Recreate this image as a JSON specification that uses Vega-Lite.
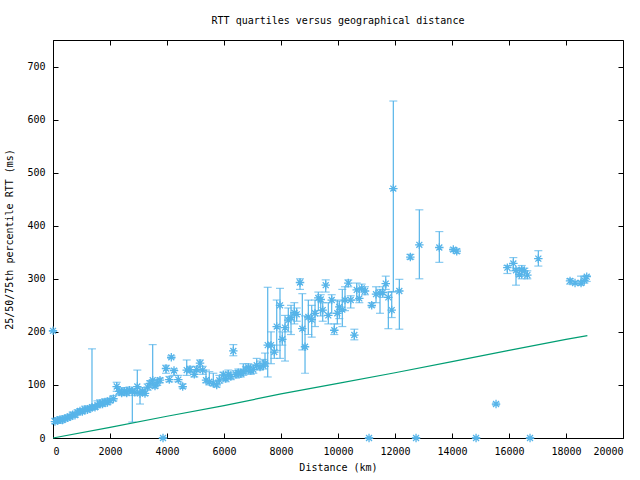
{
  "$schema": "https://vega.github.io/schema/vega-lite/v6.json",
  "autosize": {"type": "none"},
  "width": 570,
  "height": 398,
  "padding": {"left": 53, "top": 40, "right": 17, "bottom": 42},
  "background": "white",
  "title": {"text": "RTT quartiles versus geographical distance", "font": "DejaVu Sans Mono", "fontSize": 10, "fontWeight": "normal", "color": "black", "anchor": "middle", "offset": 14},
  "config": {
    "view": {"stroke": "black", "strokeWidth": 1},
    "axis": {"font": "DejaVu Sans Mono", "labelFont": "DejaVu Sans Mono", "titleFont": "DejaVu Sans Mono", "labelFontSize": 10, "titleFontSize": 10, "titleFontWeight": "normal", "labelColor": "black", "titleColor": "black", "domainColor": "black", "tickColor": "black", "grid": false, "tickSize": -5, "labelPadding": 13}
  },
  "datasets": {
    "pts": [
      {"d": 0, "v": 202, "lo": 202, "hi": 202},
      {"d": 70, "v": 31, "lo": 27, "hi": 37},
      {"d": 160, "v": 33, "lo": 28, "hi": 38},
      {"d": 246, "v": 35, "lo": 28, "hi": 40},
      {"d": 330, "v": 34, "lo": 30, "hi": 39},
      {"d": 421, "v": 37, "lo": 32, "hi": 42},
      {"d": 510, "v": 38, "lo": 34, "hi": 43},
      {"d": 597, "v": 40, "lo": 36, "hi": 45},
      {"d": 690, "v": 44, "lo": 40, "hi": 49},
      {"d": 772, "v": 43, "lo": 39, "hi": 48},
      {"d": 860, "v": 48, "lo": 44, "hi": 53},
      {"d": 947, "v": 51, "lo": 46, "hi": 55},
      {"d": 1030, "v": 50, "lo": 46, "hi": 55},
      {"d": 1123, "v": 54, "lo": 50, "hi": 60},
      {"d": 1210, "v": 53, "lo": 49, "hi": 58},
      {"d": 1298, "v": 56, "lo": 52, "hi": 60},
      {"d": 1368, "v": 58, "lo": 54, "hi": 168},
      {"d": 1474, "v": 58, "lo": 54, "hi": 63},
      {"d": 1560, "v": 62, "lo": 57, "hi": 70},
      {"d": 1649, "v": 65, "lo": 60, "hi": 72},
      {"d": 1740, "v": 64, "lo": 60, "hi": 70},
      {"d": 1825, "v": 68, "lo": 63, "hi": 74},
      {"d": 1910, "v": 67, "lo": 63, "hi": 72},
      {"d": 2000, "v": 71, "lo": 66, "hi": 75},
      {"d": 2120, "v": 74, "lo": 70, "hi": 80},
      {"d": 2235, "v": 97, "lo": 88, "hi": 105},
      {"d": 2320, "v": 88, "lo": 82, "hi": 94},
      {"d": 2410, "v": 85, "lo": 80, "hi": 90},
      {"d": 2500, "v": 88, "lo": 83, "hi": 95},
      {"d": 2586, "v": 85, "lo": 80, "hi": 92},
      {"d": 2680, "v": 90, "lo": 84, "hi": 96},
      {"d": 2783, "v": 88, "lo": 30, "hi": 92},
      {"d": 2870, "v": 86, "lo": 80, "hi": 93},
      {"d": 2958, "v": 97, "lo": 85, "hi": 128},
      {"d": 3053, "v": 84, "lo": 64, "hi": 90},
      {"d": 3140, "v": 88, "lo": 82, "hi": 95},
      {"d": 3228, "v": 84, "lo": 80, "hi": 92},
      {"d": 3320, "v": 96, "lo": 90, "hi": 102},
      {"d": 3404, "v": 103, "lo": 95, "hi": 108},
      {"d": 3498, "v": 109, "lo": 100, "hi": 176},
      {"d": 3579, "v": 98, "lo": 94, "hi": 104},
      {"d": 3660, "v": 104, "lo": 99, "hi": 110},
      {"d": 3755, "v": 109, "lo": 104, "hi": 113},
      {"d": 3860, "v": 0, "lo": 0, "hi": 0},
      {"d": 3965, "v": 131, "lo": 122, "hi": 137},
      {"d": 4081, "v": 110, "lo": 106, "hi": 116},
      {"d": 4151, "v": 152, "lo": 150, "hi": 155},
      {"d": 4246, "v": 127, "lo": 118, "hi": 130},
      {"d": 4397, "v": 110, "lo": 106, "hi": 118},
      {"d": 4551, "v": 97, "lo": 94, "hi": 102},
      {"d": 4692, "v": 128, "lo": 118, "hi": 147},
      {"d": 4807, "v": 129, "lo": 123, "hi": 135},
      {"d": 4958, "v": 120, "lo": 115, "hi": 128},
      {"d": 5042, "v": 129, "lo": 125, "hi": 135},
      {"d": 5158, "v": 141, "lo": 128, "hi": 147},
      {"d": 5253, "v": 128, "lo": 120, "hi": 135},
      {"d": 5369, "v": 109, "lo": 104, "hi": 128},
      {"d": 5485, "v": 106, "lo": 100, "hi": 125},
      {"d": 5625, "v": 103, "lo": 98, "hi": 122},
      {"d": 5744, "v": 100, "lo": 96, "hi": 108},
      {"d": 5835, "v": 109, "lo": 103, "hi": 118},
      {"d": 5976, "v": 119, "lo": 110, "hi": 124},
      {"d": 6060, "v": 112, "lo": 106, "hi": 120},
      {"d": 6151, "v": 120, "lo": 112, "hi": 128},
      {"d": 6240, "v": 116, "lo": 110, "hi": 124},
      {"d": 6327, "v": 164, "lo": 155, "hi": 176},
      {"d": 6420, "v": 120, "lo": 113, "hi": 127},
      {"d": 6502, "v": 123, "lo": 115, "hi": 130},
      {"d": 6590, "v": 121, "lo": 115, "hi": 128},
      {"d": 6678, "v": 125, "lo": 118, "hi": 140},
      {"d": 6770, "v": 128, "lo": 121, "hi": 135},
      {"d": 6853, "v": 133, "lo": 125, "hi": 140},
      {"d": 6940, "v": 127, "lo": 120, "hi": 135},
      {"d": 7029, "v": 129, "lo": 122, "hi": 138},
      {"d": 7148, "v": 137, "lo": 130, "hi": 150},
      {"d": 7264, "v": 134, "lo": 128, "hi": 145},
      {"d": 7380, "v": 136, "lo": 130, "hi": 148},
      {"d": 7439, "v": 141, "lo": 135, "hi": 160},
      {"d": 7534, "v": 175, "lo": 115, "hi": 284},
      {"d": 7650, "v": 175, "lo": 140, "hi": 200},
      {"d": 7765, "v": 162, "lo": 150, "hi": 175},
      {"d": 7850, "v": 210, "lo": 165, "hi": 260},
      {"d": 7965, "v": 250, "lo": 150, "hi": 282},
      {"d": 8046, "v": 186, "lo": 175, "hi": 200},
      {"d": 8141, "v": 208, "lo": 145, "hi": 231},
      {"d": 8256, "v": 222, "lo": 200, "hi": 245},
      {"d": 8351, "v": 227, "lo": 195, "hi": 250},
      {"d": 8467, "v": 236, "lo": 215, "hi": 255},
      {"d": 8551, "v": 233, "lo": 220, "hi": 245},
      {"d": 8667, "v": 293, "lo": 280, "hi": 300},
      {"d": 8748, "v": 206, "lo": 166, "hi": 272},
      {"d": 8843, "v": 172, "lo": 122, "hi": 230},
      {"d": 8959, "v": 228, "lo": 195, "hi": 260},
      {"d": 9078, "v": 223, "lo": 190, "hi": 250},
      {"d": 9194, "v": 235, "lo": 210, "hi": 260},
      {"d": 9310, "v": 264, "lo": 240, "hi": 275},
      {"d": 9394, "v": 261, "lo": 230, "hi": 270},
      {"d": 9464, "v": 241, "lo": 220, "hi": 255},
      {"d": 9569, "v": 288, "lo": 275, "hi": 298},
      {"d": 9660, "v": 231, "lo": 215, "hi": 255},
      {"d": 9779, "v": 260, "lo": 235, "hi": 270},
      {"d": 9870, "v": 203, "lo": 195, "hi": 215},
      {"d": 9976, "v": 235, "lo": 215, "hi": 260},
      {"d": 10046, "v": 247, "lo": 225, "hi": 258},
      {"d": 10151, "v": 242, "lo": 210, "hi": 280},
      {"d": 10246, "v": 260, "lo": 240, "hi": 285},
      {"d": 10362, "v": 292, "lo": 285, "hi": 298},
      {"d": 10446, "v": 260, "lo": 245, "hi": 268},
      {"d": 10573, "v": 194, "lo": 185, "hi": 205},
      {"d": 10657, "v": 279, "lo": 260, "hi": 292},
      {"d": 10748, "v": 263, "lo": 255, "hi": 280},
      {"d": 10832, "v": 282, "lo": 275, "hi": 290},
      {"d": 10948, "v": 277, "lo": 270, "hi": 285},
      {"d": 11089, "v": 0, "lo": 0, "hi": 0},
      {"d": 11183, "v": 250, "lo": 247, "hi": 255},
      {"d": 11334, "v": 271, "lo": 255, "hi": 285},
      {"d": 11474, "v": 273, "lo": 235, "hi": 280},
      {"d": 11569, "v": 274, "lo": 265, "hi": 285},
      {"d": 11675, "v": 291, "lo": 280, "hi": 305},
      {"d": 11766, "v": 265, "lo": 206, "hi": 275},
      {"d": 11885, "v": 241, "lo": 227, "hi": 276},
      {"d": 11941, "v": 470, "lo": 275, "hi": 635},
      {"d": 12152, "v": 277, "lo": 205, "hi": 299},
      {"d": 12538, "v": 341, "lo": 337, "hi": 346},
      {"d": 12738, "v": 0, "lo": 0, "hi": 0},
      {"d": 12854, "v": 364, "lo": 300, "hi": 430},
      {"d": 13555, "v": 359, "lo": 331, "hi": 389},
      {"d": 14046, "v": 355, "lo": 352, "hi": 358},
      {"d": 14166, "v": 352, "lo": 348, "hi": 356},
      {"d": 14844, "v": 0, "lo": 0, "hi": 0},
      {"d": 15545, "v": 64, "lo": 62, "hi": 66},
      {"d": 15942, "v": 321, "lo": 310, "hi": 325},
      {"d": 16152, "v": 329, "lo": 315, "hi": 340},
      {"d": 16246, "v": 316, "lo": 288, "hi": 320},
      {"d": 16362, "v": 308, "lo": 305, "hi": 320},
      {"d": 16447, "v": 317, "lo": 300, "hi": 325},
      {"d": 16538, "v": 315, "lo": 305, "hi": 320},
      {"d": 16643, "v": 307, "lo": 300, "hi": 315},
      {"d": 16738, "v": 0, "lo": 0, "hi": 0},
      {"d": 17029, "v": 338, "lo": 324, "hi": 353},
      {"d": 18142, "v": 296, "lo": 290, "hi": 300},
      {"d": 18317, "v": 292, "lo": 290, "hi": 295},
      {"d": 18528, "v": 292, "lo": 288, "hi": 305},
      {"d": 18644, "v": 297, "lo": 292, "hi": 305},
      {"d": 18727, "v": 304, "lo": 295, "hi": 306}
    ],
    "minline": [
      {"d": 0, "v": 0},
      {"d": 2000, "v": 20},
      {"d": 4000, "v": 41},
      {"d": 6000, "v": 61},
      {"d": 8000, "v": 83},
      {"d": 10000, "v": 103},
      {"d": 12000, "v": 123},
      {"d": 14000, "v": 144},
      {"d": 16000, "v": 165},
      {"d": 18000, "v": 186},
      {"d": 18750, "v": 193}
    ]
  },
  "resolve": {"axis": {"x": "independent", "y": "independent"}},
  "layer": [
    {
      "data": {"name": "pts"},
      "layer": [
        {
          "mark": {"type": "rule", "color": "#56B4E9", "strokeWidth": 1.2},
          "encoding": {
            "x": {"field": "d", "type": "quantitative", "scale": {"domain": [0, 20000], "nice": false}, "axis": {"orient": "bottom", "title": "Distance (km)", "values": [0, 2000, 4000, 6000, 8000, 10000, 12000, 14000, 16000, 18000, 20000], "format": "d", "titlePadding": 6}},
            "y": {"field": "lo", "type": "quantitative", "scale": {"domain": [0, 750], "nice": false}, "axis": {"orient": "left", "title": "25/50/75th percentile RTT (ms)", "values": [0, 100, 200, 300, 400, 500, 600, 700], "titlePadding": 12}},
            "y2": {"field": "hi"}
          }
        },
        {
          "mark": {"type": "tick", "orient": "horizontal", "color": "#56B4E9", "size": 8, "thickness": 1.2},
          "encoding": {
            "x": {"field": "d", "type": "quantitative"},
            "y": {"field": "lo", "type": "quantitative"}
          }
        },
        {
          "mark": {"type": "tick", "orient": "horizontal", "color": "#56B4E9", "size": 8, "thickness": 1.2},
          "encoding": {
            "x": {"field": "d", "type": "quantitative"},
            "y": {"field": "hi", "type": "quantitative"}
          }
        },
        {
          "mark": {"type": "point", "shape": "M-1,0L1,0M0,-1L0,1M-0.7,-0.7L0.7,0.7M-0.7,0.7L0.7,-0.7", "filled": false, "color": "#56B4E9", "strokeWidth": 1.3, "size": 72, "opacity": 1, "clip": false},
          "encoding": {
            "x": {"field": "d", "type": "quantitative"},
            "y": {"field": "v", "type": "quantitative"}
          }
        },
        {
          "data": {"name": "minline"},
          "mark": {"type": "line", "color": "#009E73", "strokeWidth": 1.2},
          "encoding": {
            "x": {"field": "d", "type": "quantitative"},
            "y": {"field": "v", "type": "quantitative"}
          }
        }
      ]
    },
    {
      "data": {"name": "minline"},
      "mark": {"type": "point", "opacity": 0},
      "encoding": {
        "x": {"field": "d", "type": "quantitative", "axis": {"orient": "top", "title": null, "labels": false, "domain": false, "values": [0, 2000, 4000, 6000, 8000, 10000, 12000, 14000, 16000, 18000, 20000]}},
        "y": {"field": "v", "type": "quantitative", "axis": {"orient": "right", "title": null, "labels": false, "domain": false, "values": [0, 100, 200, 300, 400, 500, 600, 700]}}
      }
    }
  ]
}
